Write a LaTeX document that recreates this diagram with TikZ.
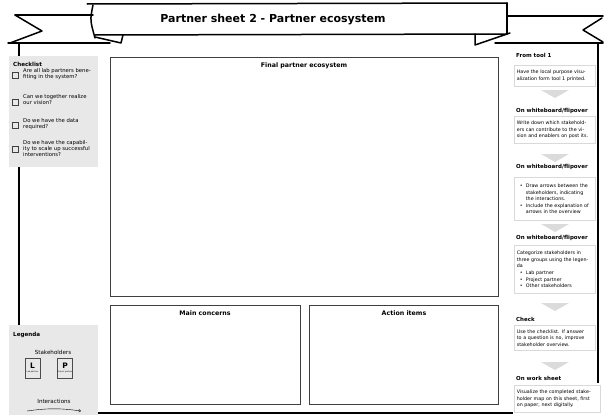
\documentclass[tikz,border=0pt]{standalone}
\usepackage{fontspec}
\setmainfont{DejaVu Sans}
\usetikzlibrary{positioning,arrows.meta}

\tikzset{
  sketch/.style={line width=1.5pt, line cap=round, line join=round},
  rail/.style={line width=1.1pt},
  area/.style={draw=black!75, line width=0.9pt},
  areatitle/.style={font=\bfseries\fontsize{6.3}{7.5}\selectfont},
  sidepanel/.style={fill=black!9},
  paneltitle/.style={anchor=west, inner sep=0pt, font=\bfseries\fontsize{5.6}{6.5}\selectfont},
  chkbox/.style={draw=black!75, line width=0.5pt, minimum size=5.5pt, inner sep=0pt},
  chktext/.style={anchor=west, align=left, inner sep=0pt, font=\fontsize{5.3}{6}\selectfont},
  stephead/.style={anchor=west, inner sep=0pt, font=\bfseries\fontsize{5.5}{6.5}\selectfont},
  stepbox/.style={draw=black!15, line width=0.7pt, fill=white, anchor=north west,
    text width=76pt, inner xsep=2.5pt, inner ysep=2pt, align=left,
    font=\fontsize{4.8}{6.6}\selectfont},
  flowarrow/.style={fill=black!14},
  rolebox/.style={draw=black!70, line width=0.5pt, minimum width=15pt,
    minimum height=20pt, inner sep=0pt, align=center, font=\fontsize{2}{2.4}\selectfont},
  legendtext/.style={font=\fontsize{5.6}{6.5}\selectfont},
}
\newcommand\stepbullet{\makebox[9pt][c]{\textbullet}}
\newcommand\stepindent{\hspace*{9pt}}
\newcommand\roleletter[1]{\bfseries\fontsize{7.5}{7.5}\selectfont #1}

\begin{document}
\begin{tikzpicture}[x=1pt,y=-1pt]
  \useasboundingbox (0,0) rectangle (604,415);

  % banner
  \draw[sketch] (87,4) -- (507,3);
  \draw[sketch] (93,5) .. controls (90,20) .. (95,38);
  \draw[sketch] (507,3) -- (507,34);
  \draw[sketch] (95,35) -- (507,34);
  \draw[sketch] (15,15) -- (93,15);
  \draw[sketch] (15,15) -- (42,31) -- (10,43);
  \draw[sketch] (8,43) -- (110,43);
  \draw[sketch] (95,37) -- (121,43) -- (123,35);
  \draw[sketch] (507,16) -- (603,16);
  \draw[sketch] (602,18) -- (583,30) -- (603,42);
  \draw[sketch] (495,43) -- (603,43);
  \draw[sketch] (475,34) -- (475,45) -- (510,33);
  \node[font=\bfseries\fontsize{11}{13}\selectfont] (title) at (273,20) {Partner sheet 2 - Partner ecosystem};

  % side rails
  \draw[rail] (19,43) -- (19,325);
  \draw[rail] (598,43) -- (598,383);
  \draw[rail] (98,413) -- (513,413);

  % checklist
  \fill[sidepanel] (9,56) rectangle (98,167);
  \node[paneltitle] (chk) at (13,64) {Checklist};
  \node[chkbox] (c1) at (15,75) {};
  \node[chktext] (t1) at (23,74) {Are all lab partners bene-\\fiting in the system?};
  \node[chkbox] (c2) at (15,102) {};
  \node[chktext] (t2) at (23,100) {Can we together realize\\our vision?};
  \node[chkbox] (c3) at (15,125) {};
  \node[chktext] (t3) at (23,124) {Do we have the data\\required?};
  \node[chkbox] (c4) at (15,149) {};
  \node[chktext] (t4) at (23,149) {Do we have the capabil-\\ity to scale up successful\\interventions?};

  % legend
  \fill[sidepanel] (9,325) rectangle (98,415);
  \node[paneltitle] (leg) at (13,335) {Legenda};
  \node[legendtext] (sh) at (53,352) {Stakeholders};
  \node[rolebox] (lab) at (32.5,368) {\roleletter{L}\\[-0.5pt]-\\Lab partner};
  \node[rolebox] (proj) at (65,368) {\roleletter{P}\\[-0.5pt]-\\Project partner};
  \node[legendtext] (inter) at (54,401) {Interactions};
  \coordinate (ia) at (27,411);
  \coordinate (ib) at (81,411);
  \draw[line width=0.4pt, -{Straight Barb[length=2pt,width=3pt]}] (ia) to[bend left=8] (ib);

  % work areas
  \draw[area] (110,57) rectangle (498,296);
  \node[areatitle] (fin) at (304,66) {Final partner ecosystem};
  \draw[area] (110,305) rectangle (300,404);
  \node[areatitle] (conc) at (205,313) {Main concerns};
  \draw[area] (309,305) rectangle (498,404);
  \node[areatitle] (act) at (404,313) {Action items};

  % steps
  \node[stephead] (h1) at (516,55) {From tool 1};
  \node[stepbox, minimum height=21pt] (s1) at (514,65)
    {Have the local purpose visu-\\alization form tool 1 printed.};
  \node[stephead] (h2) at (516,111) {On whiteboard/flipover};
  \node[stepbox, minimum height=27pt] (s2) at (514,116)
    {Write down which stakehold-\\ers can contribute to the vi-\\sion and enablers on post its.};
  \node[stephead] (h3) at (516,167) {On whiteboard/flipover};
  \node[stepbox, minimum height=43pt] (s3) at (514,177)
    {\stepbullet Draw arrows between the\\\stepindent stakeholders, indicating\\\stepindent the interactions.\\\stepbullet Include the explanation of\\\stepindent arrows in the overview};
  \node[stephead] (h4) at (516,238) {On whiteboard/flipover};
  \node[stepbox, minimum height=48pt] (s4) at (514,245)
    {Categorize stakeholders in\\three groups using the legen-\\da\\\stepbullet Lab partner\\\stepbullet Project partner\\\stepbullet Other stakeholders};
  \node[stephead] (h5) at (516,319) {Check};
  \node[stepbox, minimum height=25pt] (s5) at (514,325)
    {Use the checklist. If answer\\to a question is no, improve\\stakeholder overview.};
  \node[stephead] (h6) at (516,378) {On work sheet};
  \node[stepbox, minimum height=27pt, text width=81pt] (s6) at (514,385)
    {Visualize the completed stake-\\holder map on this sheet, first\\on paper, next digitally.};
  \foreach \y in {94,158,228,307,366}
    \fill[flowarrow] (541,\y-4) -- (569,\y-4) -- (555,\y+4) -- cycle;
\end{tikzpicture}
\end{document}
